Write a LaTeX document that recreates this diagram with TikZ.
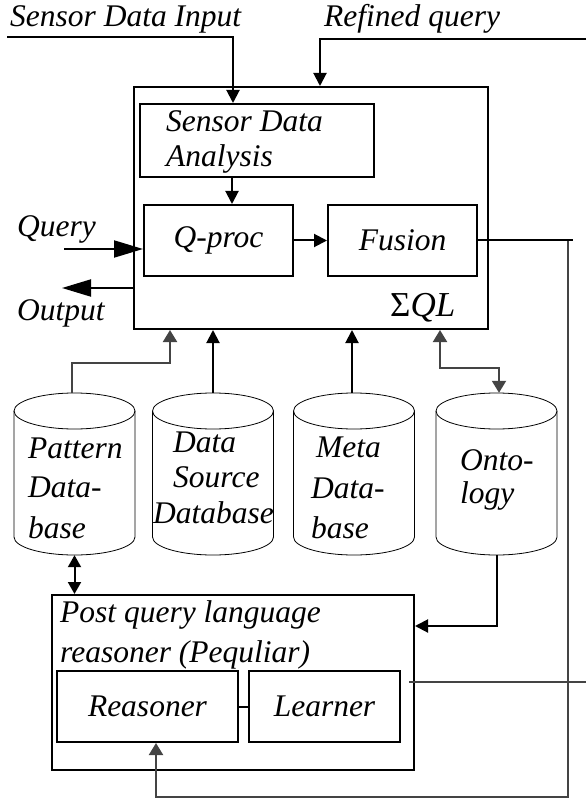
\documentclass[tikz,border=0pt]{standalone}
\usepackage{fontspec}
\setmainfont{Liberation Serif}
\usetikzlibrary{arrows.meta,calc}
\definecolor{lg}{HTML}{444444}
\tikzset{
  box/.style={draw=black, line width=2pt, anchor=north west, inner sep=0pt, font=\itshape\fontsize{31.5}{38}\selectfont},
  txt/.style={anchor=base west, inner sep=0pt, font=\itshape\fontsize{31.5}{38}\selectfont},
  cylbox/.style={minimum width=121pt, minimum height=162pt, inner sep=0pt},
  cylline/.style={line width=0.8pt},
  conn/.style={line width=2pt},
  arr/.style={line width=2pt, -{Triangle[length=13pt,width=13pt]}},
  garr/.style={line width=2pt, draw=lg, -{Triangle[length=12pt,width=14pt]}, color=lg},
  gdarr/.style={line width=2pt, draw=lg, {Triangle[length=12pt,width=14pt]}-{Triangle[length=12pt,width=14pt]}, color=lg},
  darr/.style={line width=2pt, {Triangle[length=12pt,width=13pt]}-{Triangle[length=12pt,width=13pt]}},
  bigarr/.style={line width=2pt, -{Triangle[length=29pt,width=17pt]}},
  gline/.style={line width=2pt, draw=lg},
}
\newcommand\mycyl[2]{%
  \node[cylbox] (#1) at (#2,474) {};
  \draw[cylline] (#2,411) ellipse [x radius=60.5pt, y radius=18pt];
  \draw[cylline] (#2-60.5,411) -- (#2-60.5,537) arc[start angle=180,end angle=360,x radius=60.5pt,y radius=18pt] -- (#2+60.5,411);
}
\begin{document}
\begin{tikzpicture}[x=1pt,y=-1pt]
\useasboundingbox (0,0) rectangle (586,799);
% boxes
\node[box, minimum width=354pt, minimum height=242pt] (sql) at (133,86) {};
\node[box, minimum width=234pt, minimum height=73pt] (sda) at (139,103) {};
\node[box, minimum width=149pt, minimum height=71pt] (qproc) at (143,204) {Q-proc};
\node[box, minimum width=149pt, minimum height=71pt] (fusion) at (327,204) {Fusion};
\node[box, minimum width=362pt, minimum height=175pt] (post) at (51,594) {};
\node[box, minimum width=181pt, minimum height=71pt] (reas) at (56,670) {Reasoner};
\node[box, minimum width=151pt, minimum height=71pt] (learn) at (248,670) {Learner};
% cylinders
\mycyl{pat}{74.5}
\mycyl{ds}{213}
\mycyl{meta}{354}
\mycyl{onto}{496.5}
% texts
\node[txt] (tsensor) at (10,27) {Sensor Data Input};
\node[txt] (trefined) at (324,27) {Refined query};
\node[txt] (tsda1) at (166,132) {Sensor Data};
\node[txt] (tsda2) at (166,167) {Analysis};
\node[txt] (tquery) at (17,237) {Query};
\node[txt] (toutput) at (17,320) {Output};
\node[txt, font=\itshape\fontsize{35}{40}\selectfont] (tsql) at (390,316) {\textup{Σ}QL};
\node[txt] (tp1) at (28,458) {Pattern};
\node[txt] (tp2) at (28,497) {Data-};
\node[txt] (tp3) at (28,538) {base};
\node[txt] (td1) at (173,452) {Data};
\node[txt] (td2) at (173,487) {Source};
\node[txt] (td3) at (153,523) {Database};
\node[txt] (tm1) at (316,457) {Meta};
\node[txt] (tm2) at (311,498) {Data-};
\node[txt] (tm3) at (311,538) {base};
\node[txt] (to1) at (460,470) {Onto-};
\node[txt] (to2) at (460,503) {logy};
\node[txt] (tpost1) at (60,622) {Post query language};
\node[txt] (tpost2) at (60,662) {reasoner (Pequliar)};
% free ends
\coordinate (sensorin) at (7,37);
\coordinate (refin) at (586,39);
\coordinate (qin) at (64,249);
\coordinate (outend) at (62,288);
\coordinate (fr) at (573,241);
\coordinate (lt) at (568,241);
\coordinate (lc) at (568,797);
\coordinate (lrstart) at (409,682);
\coordinate (lrend) at (586,682);
% connectors
\draw[arr] (sensorin) -| ($(sda.north west)+(94,0)$);
\draw[arr] (refin) -| ($(sql.north west)+(187,0)$);
\draw[arr] ($(sda.south west)+(93,0)$) -- ($(qproc.north west)+(89,0)$);
\draw[arr] (qproc.east) -- (fusion.west);
\draw[bigarr] (qin) -- (qin -| qproc.west);
\draw[bigarr] (outend -| sql.west) -- (outend);
\draw[conn] (fusion.east) -- (fusion.east -| fr);
\draw[garr] (lt) -- (lc) -| ($(reas.south west)+(100,0)$);
\draw[gline] (lrstart) -- (lrend);
\draw[conn] (reas.east) -- (learn.west);
\draw[arr] (onto.south) |- ($(post.north east)+(0,32)$);
\draw[darr] (pat.south) -- (pat.south |- post.north);
\draw[garr] ($(pat.north)+(-3,0)$) -- ++(0,-30) -| ($(sql.south west)+(37,0)$);
\draw[arr] (ds.north) -- (ds.north |- sql.south);
\draw[arr] ($(meta.north)+(-2,0)$) -- ($(meta.north |- sql.south)+(-2,0)$);
\draw[gdarr] ($(sql.south west)+(307,0)$) -- ++(0,38) -| ($(onto.north)+(2.5,0)$);
\end{tikzpicture}
\end{document}
